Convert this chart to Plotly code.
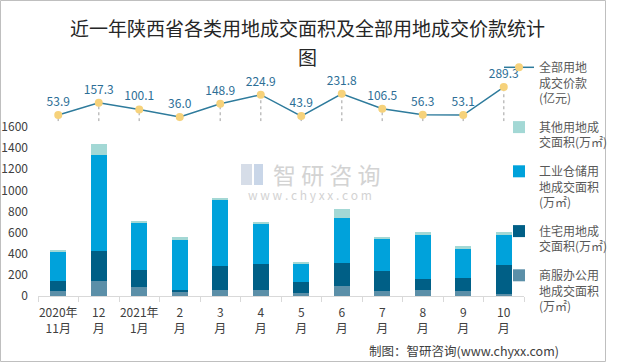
import plotly.graph_objects as go

categories = ["2020年<br>11月", "12<br>月", "2021年<br>1月", "2<br>月", "3<br>月", "4<br>月",
              "5<br>月", "6<br>月", "7<br>月", "8<br>月", "9<br>月", "10<br>月"]
commercial = [47, 142, 85, 38, 57, 57, 28, 95, 47, 57, 47, 19]
residential = [95, 285, 162, 19, 231, 246, 105, 218, 190, 104, 124, 275]
industrial = [275, 904, 445, 477, 622, 380, 170, 426, 303, 417, 275, 284]
other = [19, 110, 19, 25, 19, 19, 19, 86, 10, 29, 28, 29]
price = [53.9, 157.3, 100.1, 36.0, 148.9, 224.9, 43.9, 231.8, 106.5, 56.3, 53.1, 289.3]

names = {
    "price": "全部用地<br>成交价款<br>(亿元)",
    "other": "其他用地成<br>交面积(万㎡)",
    "industrial": "工业仓储用<br>地成交面积<br>(万㎡)",
    "residential": "住宅用地成<br>交面积(万㎡)",
    "commercial": "商服办公用<br>地成交面积<br>(万㎡)",
}
ranks = {"price": 1, "other": 2, "industrial": 3, "residential": 4, "commercial": 5}
colors = {"commercial": "#5B8FA8", "residential": "#005F86", "industrial": "#00A2DB", "other": "#A3D8D5"}

FONT = "Noto Sans CJK SC"
W, H = 620, 363
L, R, T, B = 38, 96, 30, 40
PW, PH = W - L - R, H - T - B


def px(x):
    return (x - L) / PW


def py(y):
    return (H - B - y) / PH


fig = go.Figure()
for key, vals in [("commercial", commercial), ("residential", residential),
                  ("industrial", industrial), ("other", other)]:
    fig.add_trace(go.Bar(x=categories, y=vals, name=names[key], marker_color=colors[key],
                         marker_line_width=0, legendgroup=key, legendrank=ranks[key], yaxis="y"))

# dotted drop lines from the price points
dx, dy = [], []
for c, v in zip(categories, price):
    dx += [c, c, None]
    dy += [0, v, None]
fig.add_trace(go.Scatter(x=dx, y=dy, mode="lines", yaxis="y2", showlegend=False, hoverinfo="skip",
                         line=dict(color="#BFBFBF", width=1.5, dash="dot")))

fig.add_trace(go.Scatter(x=categories, y=price, name=names["price"], yaxis="y2", legendgroup="price",
                         legendrank=ranks["price"],
                         mode="lines+markers+text", text=[f"{v:.1f}" for v in price],
                         textposition="top center",
                         textfont=dict(size=12, color="#2C6E96", family=FONT),
                         line=dict(color="#2E7B9C", width=1.5),
                         marker=dict(color="#F6D27B", size=8)))

line_top = 60
fig.update_layout(
    width=W, height=H,
    margin=dict(l=L, r=R, t=T, b=B, autoexpand=False),
    paper_bgcolor="white", plot_bgcolor="white",
    barmode="stack", bargap=0.6,
    font=dict(family=FONT, size=12, color="#595959"),
    showlegend=True,
    legend=dict(x=px(499), y=py(53), xanchor="left", yanchor="top", traceorder="grouped",
                valign="top", tracegroupgap=10, font=dict(size=12, color="#595959"),
                bgcolor="rgba(0,0,0,0)", itemwidth=30),
    xaxis=dict(type="category", range=[-0.5, len(categories) - 0.5], showgrid=False,
               showline=True, linecolor="#D9D9D9", linewidth=1,
               ticks="outside", tickson="boundaries", ticklen=5, tickcolor="#D9D9D9",
               tickangle=0, automargin=False, ticklabelstandoff=6,
               tickfont=dict(size=12, color="#404040"), anchor="y"),
    yaxis=dict(domain=[py(296), py(127)], range=[0, 1600], dtick=200, showgrid=False, zeroline=False,
               showline=False, automargin=False,
               tickfont=dict(size=12, color="#404040"), ticklabelstandoff=9),
    yaxis2=dict(domain=[py(121.3), py(line_top)], range=[0, (121.3 - line_top) / 0.1184], visible=False,
                showgrid=False, zeroline=False, automargin=False),
)

annotations = [
    dict(text="近一年陕西省各类用地成交面积及全部用地成交价款统计", x=px(307), y=py(27)),
    dict(text="图", x=px(307), y=py(56)),
]
for a in annotations:
    fig.add_annotation(xref="paper", yref="paper", x=a["x"], y=a["y"], text=a["text"],
                       showarrow=False, xanchor="center", yanchor="middle",
                       font=dict(family=FONT, size=19, color="#262626"))

# watermark
fig.add_annotation(xref="paper", yref="paper", x=px(326), y=py(174), text="智 研 咨 询", showarrow=False,
                   xanchor="center", yanchor="middle", font=dict(family=FONT, size=23, color="#D3D3D3"))
fig.add_annotation(xref="paper", yref="paper", x=px(310), y=py(194), text="w w w . c h y x x . c o m",
                   showarrow=False, xanchor="center", yanchor="middle",
                   font=dict(family=FONT, size=12, color="#D3D3D3"))
fig.add_shape(type="rect", xref="paper", yref="paper", x0=px(241), x1=px(252), y0=py(185), y1=py(164),
              line_width=0, fillcolor="#D6DDE8", layer="below")
fig.add_shape(type="rect", xref="paper", yref="paper", x0=px(254), x1=px(263), y0=py(185), y1=py(164),
              line_width=0, fillcolor="#C9D6E8", layer="below")

# source
fig.add_annotation(xref="paper", yref="paper", x=px(561), y=py(350), text="制图：智研咨询(www.chyxx.com)",
                   showarrow=False, xanchor="right", yanchor="middle",
                   font=dict(family=FONT, size=12.5, color="#404040"))

# outer border
fig.add_shape(type="rect", xref="paper", yref="paper", x0=px(0.5), x1=px(605.5), y0=py(361.5), y1=py(0.5),
              line=dict(color="#BFBFBF", width=1), fillcolor="rgba(0,0,0,0)")

fig.write_html("out.html", config={"displayModeBar": False},
               post_script="document.body.style.margin='0';document.body.style.overflow='hidden';")
